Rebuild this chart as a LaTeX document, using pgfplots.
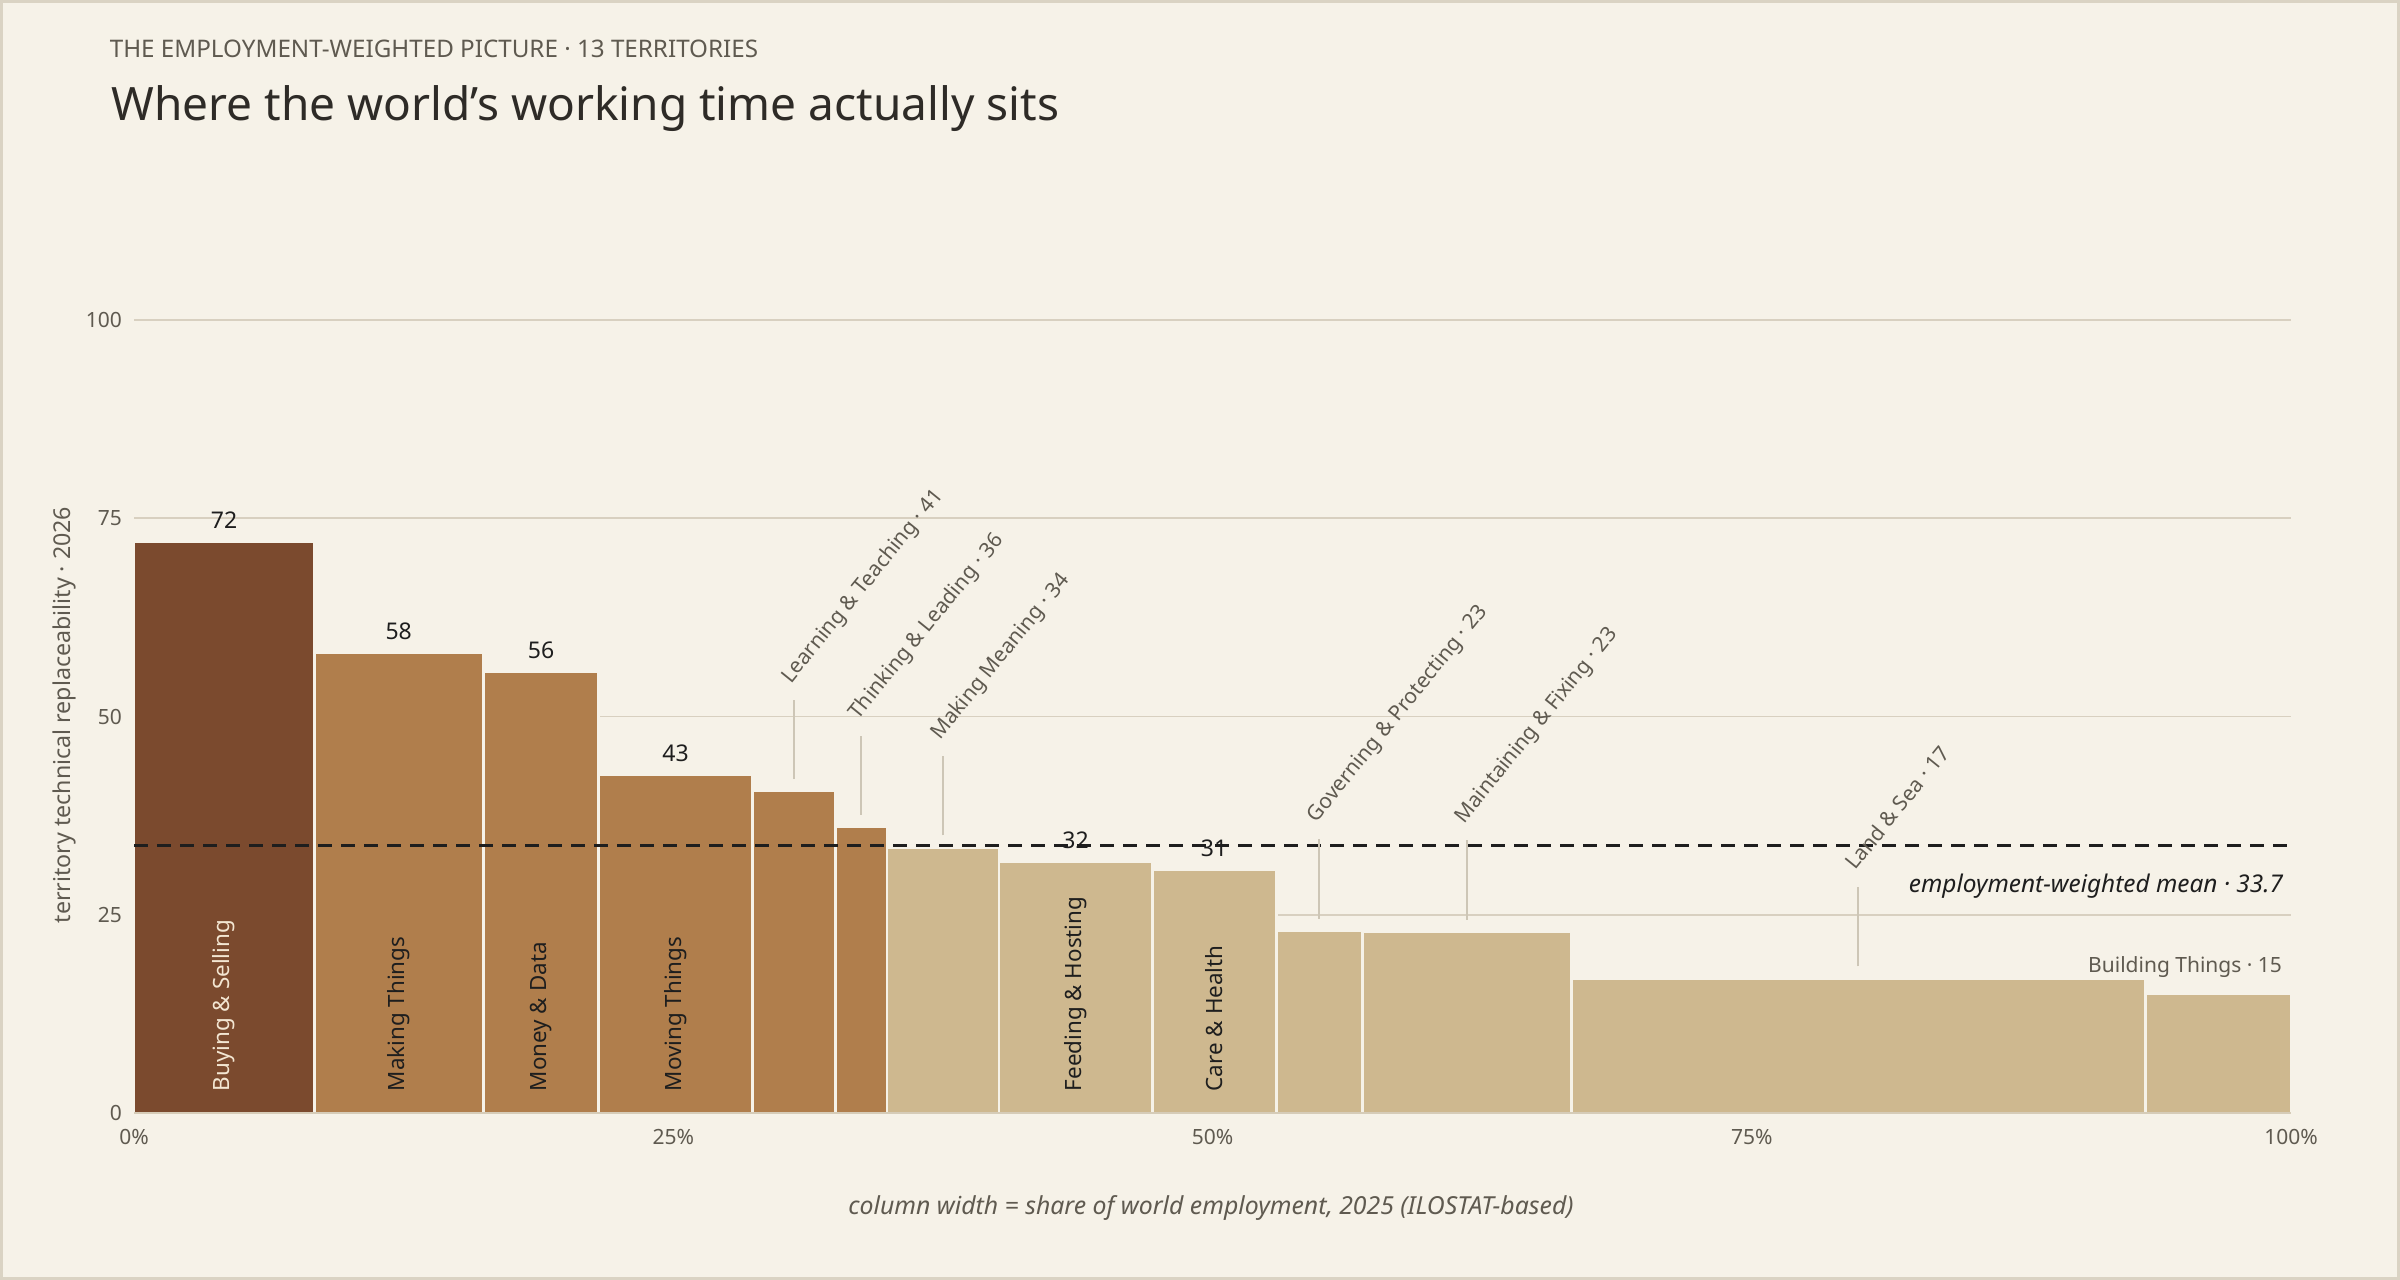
\documentclass[border=0pt]{standalone}
\usepackage{pgfplots}
\pgfplotsset{compat=1.18}
\usepackage{fontspec}
\setmainfont{Noto Sans}

\definecolor{bg}{HTML}{F6F2E8}
\definecolor{frame}{HTML}{DAD3C3}
\definecolor{gridc}{HTML}{D8D0C0}
\definecolor{basec}{HTML}{D6CCB8}
\definecolor{dark}{HTML}{7B4A2E}
\definecolor{mid}{HTML}{B07E4C}
\definecolor{light}{HTML}{CEB88F}
\definecolor{ink}{HTML}{1E1E1E}
\definecolor{titleink}{HTML}{2E2B27}
\definecolor{muted}{HTML}{5F5A50}
\definecolor{lead}{HTML}{CDC6B6}
\definecolor{cream}{HTML}{F3E6D2}

% one territory: left edge, right edge, replaceability, colour
\newcommand{\tile}[4]{%
  \addplot[fill=#4, draw=bg, line width=1.4pt]
    coordinates {(#1,0) (#1,#3) (#2,#3) (#2,0)} -- cycle;}
% angled call-out: centre, line bottom, line top, text x, text y, text
\newcommand{\callout}[6]{%
  \draw[lead, line width=0.8pt] (axis cs:#1,#2) -- (axis cs:#1,#3);
  \node[anchor=base west, inner sep=0pt, rotate=51, text=muted,
        font=\fontsize{10.5}{12}\selectfont] at (axis cs:#4,#5) {#6};}
\newcommand{\val}[3]{%
  \node[inner sep=0pt, text=ink, font=\fontsize{11.5}{13}\selectfont]
    at (axis cs:#1,#2) {#3};}
\newcommand{\inbar}[3]{%
  \node[anchor=west, inner sep=0pt, rotate=90, text=#3,
        font=\fontsize{11.2}{13}\selectfont] at (axis cs:#1,2.7) {#2};}

\begin{document}
\begin{tikzpicture}
  \useasboundingbox (0,0) rectangle (1200pt,640pt);
  \fill[bg] (0,0) rectangle (1200pt,640pt);
  \draw[frame, line width=1.6pt] (0.8pt,0.8pt) rectangle (1199.2pt,639.2pt);

  \node[anchor=base west, inner sep=0pt, text=muted,
        font=\fontsize{12.1}{14}\selectfont] at (54.7pt,611.4pt)
        {THE EMPLOYMENT-WEIGHTED PICTURE · 13 TERRITORIES};
  \node[anchor=base west, inner sep=0pt, text=titleink,
        font=\fontsize{23}{27}\selectfont] at (55.5pt,579.6pt)
        {Where the world’s working time actually sits};

  \node[rotate=90, inner sep=0pt, text=muted,
        font=\fontsize{11.6}{13}\selectfont] at (32pt,282.5pt)
        {territory technical replaceability · 2026};
  \node[inner sep=0pt, text=muted,
        font=\itshape\fontsize{12.4}{14}\selectfont] at (605.5pt,36pt)
        {column width = share of world employment, 2025 (ILOSTAT-based)};

  \begin{axis}[
    at={(67pt,83.5pt)}, anchor=south west,
    scale only axis,
    width=1078.5pt, height=396.5pt,
    xmin=0, xmax=100, ymin=0, ymax=100,
    clip=false,
    axis line style={draw=none},
    major tick length=0pt,
    xtick={0,25,50,75,100},
    xticklabels={0\%,25\%,50\%,75\%,100\%},
    ytick={0,25,50,75,100},
    yticklabels={0,25,50,75,100},
    xticklabel style={anchor=north, inner sep=0pt, yshift=-8pt,
                      text=muted, font=\fontsize{10.5}{12}\selectfont},
    yticklabel style={anchor=east, inner sep=0pt, xshift=-5.8pt,
                      text=muted, font=\fontsize{10.5}{12}\selectfont},
    ymajorgrids,
    grid style={gridc, line width=0.9pt},
  ]
    \tile{0}{8.35}{72.0}{dark}
    \tile{8.35}{16.19}{58.1}{mid}
    \tile{16.19}{21.55}{55.6}{mid}
    \tile{21.55}{28.66}{42.7}{mid}
    \tile{28.66}{32.51}{40.6}{mid}
    \tile{32.51}{34.91}{36.1}{mid}
    \tile{34.91}{40.10}{33.5}{light}
    \tile{40.10}{47.20}{31.7}{light}
    \tile{47.20}{52.95}{30.7}{light}
    \tile{52.95}{56.94}{23.0}{light}
    \tile{56.94}{66.63}{22.9}{light}
    \tile{66.63}{93.24}{17.0}{light}
    \tile{93.24}{100}{15.1}{light}

    % baseline
    \addplot[basec, line width=1.4pt] coordinates {(0,0) (100,0)};
    % employment-weighted mean
    \addplot[ink, line width=1.3pt, dash pattern=on 7pt off 4.5pt]
      coordinates {(0,33.7) (100,33.7)};
    \node[anchor=east, inner sep=0pt, text=ink,
          font=\itshape\fontsize{12.2}{14}\selectfont] at (axis cs:99.65,28.6)
          {employment-weighted mean · 33.7};

    \val{4.175}{74.8}{72}
    \val{12.27}{60.8}{58}
    \val{18.87}{58.3}{56}
    \val{25.105}{45.4}{43}
    \val{43.65}{34.4}{32}
    \val{50.075}{33.4}{31}

    \inbar{4.175}{Buying \& Selling}{cream}
    \inbar{12.27}{Making Things}{ink}
    \inbar{18.87}{Money \& Data}{ink}
    \inbar{25.105}{Moving Things}{ink}
    \inbar{43.65}{Feeding \& Hosting}{ink}
    \inbar{50.075}{Care \& Health}{ink}

    \callout{30.585}{42.1}{52.1}{30.45}{54.0}{Learning \& Teaching · 41}
    \callout{33.71}{37.6}{47.6}{33.58}{49.5}{Thinking \& Leading · 36}
    \callout{37.505}{35.0}{45.0}{37.37}{46.9}{Making Meaning · 34}
    \callout{54.945}{24.5}{34.5}{54.82}{36.5}{Governing \& Protecting · 23}
    \callout{61.785}{24.4}{34.4}{61.66}{36.4}{Maintaining \& Fixing · 23}
    \callout{79.935}{18.5}{28.5}{79.81}{30.5}{Land \& Sea · 17}

    \node[anchor=east, inner sep=0pt, text=muted,
          font=\fontsize{10.5}{12}\selectfont] at (axis cs:99.6,18.4)
          {Building Things · 15};
  \end{axis}
\end{tikzpicture}
\end{document}
